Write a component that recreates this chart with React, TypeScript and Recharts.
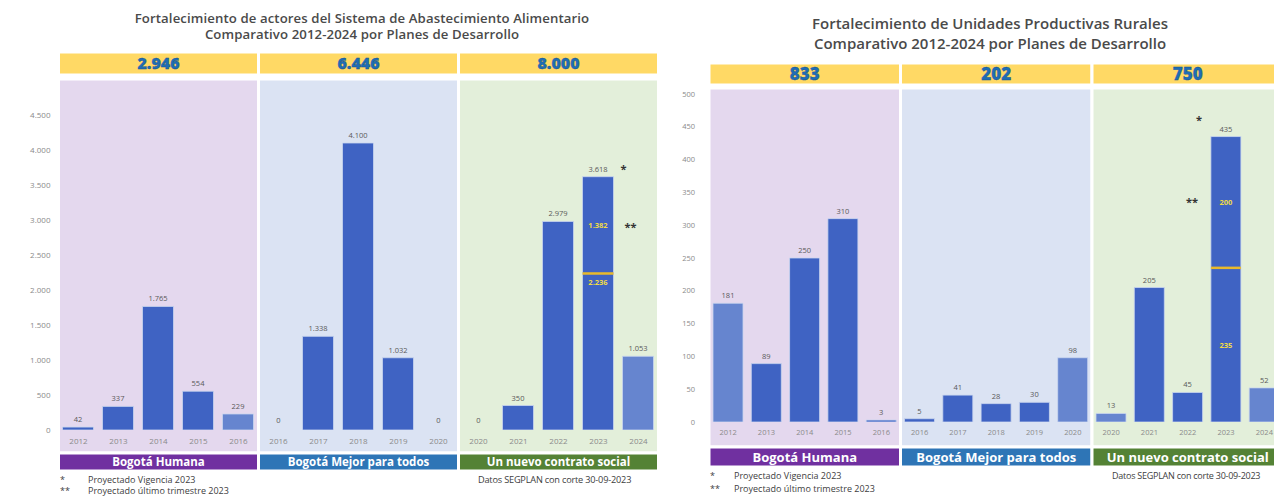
import { BarChart, Bar, XAxis, YAxis, CartesianGrid, ReferenceArea, ReferenceDot, LabelList, Cell } from "recharts";

const years = ["2012", "2013", "2014", "2015", "2016", "2016", "2017", "2018", "2019", "2020", "2020", "2021", "2022", "2023", "2024"];
const plans = ["Bogotá Humana", "Bogotá Mejor para todos", "Un nuevo contrato social"];

// Fortalecimiento de actores del Sistema de Abastecimiento Alimentario
const actoresBase = [42, 337, 1765, 554, 229, 0, 1338, 4100, 1032, 0, 0, 350, 2979, 2236, 1053];
const actoresExtra = [null, null, null, null, null, null, null, null, null, null, null, null, null, 1382, null];
const actoresTotals = ["2.946", "6.446", "8.000"];
const actoresLight = [4, 14];
const actoresTicks = [0, 500, 1000, 1500, 2000, 2500, 3000, 3500, 4000, 4500];

// Fortalecimiento de Unidades Productivas Rurales
const unidadesBase = [181, 89, 250, 310, 3, 5, 41, 28, 30, 98, 13, 205, 45, 235, 52];
const unidadesExtra = [null, null, null, null, null, null, null, null, null, null, null, null, null, 200, null];
const unidadesTotals = ["833", "202", "750"];
const unidadesLight = [0, 9, 10, 14];
const unidadesTicks = [0, 50, 100, 150, 200, 250, 300, 350, 400, 450, 500];

const segBg = ["#e4d8ee", "#dbe3f3", "#e3efda"];
const segBand = ["#7030a0", "#2e75b6", "#548235"];
const BAR = "#3f63c3";
const BAR_LIGHT = "#6685cf";
const YELLOW_TXT = "#f1dc45";
const FONT = "'Open Sans', sans-serif";

const fmt = (n: number) => String(n).replace(/\B(?=(\d{3})+(?!\d))/g, ".");

interface PanelProps {
  width: number;
  height: number;
  margin: { top: number; right: number; bottom: number; left: number };
  yAxisWidth: number;
  yMax: number;
  ticks: number[];
  base: number[];
  extra: (number | null)[];
  totals: string[];
  light: number[];
  barSize: number;
  plotTop: number;
  plotBottom: number;
  headerPx: [number, number];
  bgTopPx: number;
  bandPx: [number, number];
  headerFont: number;
  bandFont: number;
  tickFont: number;
  labelFont: number;
  yTickMargin: number;
  innerBasePos: "insideTop" | "center";
  starSide: "left" | "right";
}

function PlanChart(p: PanelProps) {
  const toVal = (py: number) => (p.yMax * (p.plotBottom - py)) / (p.plotBottom - p.plotTop);
  const rows = years.map((year, i) => {
    const ex = p.extra[i];
    return {
      i,
      year,
      base: p.base[i],
      extra: ex,
      topLabel: ex == null ? fmt(p.base[i]) : null,
      baseInner: ex != null ? fmt(p.base[i]) : null,
      extraInner: ex != null ? fmt(ex) : null,
      total: ex != null ? fmt(p.base[i] + ex) : null,
    };
  });

  const innerLabel = (pos: "insideTop" | "center") => (lp: any) => {
    if (lp.value == null) return null;
    const y = pos === "insideTop" ? lp.y + 6 + p.labelFont * 0.8 : lp.y + lp.height / 2 + p.labelFont * 0.35;
    return (
      <text x={lp.x + lp.width / 2} y={y} textAnchor="middle" fontSize={p.labelFont} fontWeight={700} fill={YELLOW_TXT} fontFamily={FONT}>
        {lp.value}
      </text>
    );
  };

  const totalLabel = (lp: any) => {
    if (lp.value == null) return null;
    const { x, y, width, height } = lp;
    const cx = x + width / 2;
    const starX = p.starSide === "right" ? x + width + 10 : x - 12;
    const starY = p.starSide === "right" ? y - 8 : y - 17;
    const dblX = p.starSide === "right" ? x + width + 17 : x - 19;
    const dblY = p.starSide === "right" ? y + height / 2 + 6 : y + height / 2 + 4;
    return (
      <g>
        <text x={cx} y={y - 5} textAnchor="middle" fontSize={p.labelFont} fill="#595959" fontFamily={FONT}>
          {lp.value}
        </text>
        <text x={starX} y={starY + 4} textAnchor="middle" fontSize={11} fontWeight={700} fill="#333">
          *
        </text>
        <text x={dblX} y={dblY} textAnchor="middle" fontSize={11} fontWeight={700} fill="#333">
          **
        </text>
      </g>
    );
  };

  const extraShape = (sp: any) => {
    if (!sp.height || sp.height <= 0) return <g />;
    return (
      <g>
        <rect x={sp.x} y={sp.y} width={sp.width} height={sp.height} fill={BAR} stroke="#c9d5ef" strokeWidth={0.8} />
        <line x1={sp.x} x2={sp.x + sp.width} y1={sp.y + sp.height} y2={sp.y + sp.height} stroke="#e8b92c" strokeWidth={2.5} />
      </g>
    );
  };

  const yHeadTop = toVal(p.headerPx[0]);
  const yHeadBot = toVal(p.headerPx[1]);
  const yBgTop = toVal(p.bgTopPx);
  const yBandTop = toVal(p.bandPx[0]);
  const yBandBot = toVal(p.bandPx[1]);

  return (
    <BarChart width={p.width} height={p.height} data={rows} margin={p.margin} barSize={p.barSize}>
      {plans.map((plan, s) => (
        <ReferenceArea
          key={"bg" + s}
          x1={s * 5 - 0.5}
          x2={s * 5 + 4.5}
          y1={yBandTop}
          y2={yBgTop}
          ifOverflow="visible"
          fill={segBg[s]}
          fillOpacity={1}
          stroke="#ffffff"
          strokeWidth={3}
        />
      ))}
      {plans.map((plan, s) => (
        <ReferenceArea
          key={"hd" + s}
          x1={s * 5 - 0.5}
          x2={s * 5 + 4.5}
          y1={yHeadBot}
          y2={yHeadTop}
          ifOverflow="visible"
          fill="#ffd965"
          fillOpacity={1}
          stroke="#ffffff"
          strokeWidth={3}
          label={{
            value: p.totals[s],
            position: "center",
            fill: "#1f6db4",
            fontSize: p.headerFont,
            fontWeight: 800,
            fontFamily: FONT,
            stroke: "#174d85",
            strokeWidth: 0.35,
          }}
        />
      ))}
      {plans.map((plan, s) => (
        <ReferenceArea
          key={"bd" + s}
          x1={s * 5 - 0.5}
          x2={s * 5 + 4.5}
          y1={yBandBot}
          y2={yBandTop}
          ifOverflow="visible"
          fill={segBand[s]}
          fillOpacity={1}
          stroke="#ffffff"
          strokeWidth={3}
          label={{ value: plan, position: "center", fill: "#ffffff", fontSize: p.bandFont, fontWeight: 700, fontFamily: FONT }}
        />
      ))}
      <CartesianGrid vertical={false} stroke="rgba(90,90,110,0.16)" strokeWidth={1.2} />
      <XAxis
        type="number"
        dataKey="i"
        domain={[-0.5, 14.5]}
        ticks={years.map((_, i) => i)}
        tickFormatter={(v: number) => years[v]}
        interval={0}
        axisLine={false}
        tickLine={false}
        height={20}
        tick={{ fill: "#8a8a8a", fontSize: p.tickFont, fontFamily: FONT }}
      />
      <YAxis
        domain={[0, p.yMax]}
        ticks={p.ticks}
        allowDataOverflow
        width={p.yAxisWidth}
        axisLine={false}
        tickLine={false}
        tickMargin={p.yTickMargin}
        tickFormatter={(v: number) => fmt(v)}
        tick={{ fill: "#8a8a8a", fontSize: p.tickFont, fontFamily: FONT }}
      />
      <Bar dataKey="base" stackId="a" isAnimationActive={false} stroke="#c9d5ef" strokeWidth={0.8}>
        {rows.map((r) => (
          <Cell key={r.i} fill={p.light.includes(r.i) ? BAR_LIGHT : BAR} />
        ))}
        <LabelList dataKey="topLabel" position="top" offset={5} fill="#595959" stroke="none" fontSize={p.labelFont} fontFamily={FONT} />
        <LabelList dataKey="baseInner" content={innerLabel(p.innerBasePos)} />
      </Bar>
      <Bar dataKey="extra" stackId="a" isAnimationActive={false} shape={extraShape}>
        <LabelList dataKey="extraInner" content={innerLabel("center")} />
        <LabelList dataKey="total" content={totalLabel} />
      </Bar>
      {rows
        .filter((r) => r.base === 0 && r.extra == null)
        .map((r) => (
          <ReferenceDot
            key={"z" + r.i}
            x={r.i}
            y={0}
            r={0}
            fill="none"
            stroke="none"
            ifOverflow="visible"
            label={{ value: "0", position: "top", offset: 7, fill: "#595959", fontSize: p.labelFont, fontFamily: FONT }}
          />
        ))}
    </BarChart>
  );
}

const abs = (left: number, top: number, fs: number, extra: any = {}) => ({
  position: "absolute" as const,
  left,
  top: top - fs * 0.55,
  fontSize: fs,
  lineHeight: 1.05,
  whiteSpace: "nowrap" as const,
  color: "#404040",
  ...extra,
});

export default function App() {
  return (
    <div style={{ position: "absolute", left: 0, top: 0, width: 1274, height: 497, overflow: "hidden", background: "#fff", fontFamily: FONT }}>
      {/* left panel */}
      <div style={{ position: "absolute", left: 0, top: 0, width: 660, height: 497 }}>
        <PlanChart
          width={660}
          height={497}
          margin={{ top: 80, right: 1.5, bottom: 47, left: 8.5 }}
          yAxisWidth={50}
          yMax={5000}
          ticks={actoresTicks}
          base={actoresBase}
          extra={actoresExtra}
          totals={actoresTotals}
          light={actoresLight}
          barSize={31}
          plotTop={80}
          plotBottom={430}
          headerPx={[52, 75]}
          bgTopPx={79}
          bandPx={[453, 471]}
          headerFont={16}
          bandFont={11.5}
          tickFont={8}
          labelFont={7.5}
          yTickMargin={2}
          innerBasePos="insideTop"
          starSide="right"
        />
      </div>
      <div style={{ position: "absolute", left: 0, top: 0, width: 724, textAlign: "center", fontSize: 13.2, letterSpacing: 0.1, fontWeight: 600, color: "#4a4a4a", lineHeight: "15.5px", paddingTop: 11 }}>
        <div>Fortalecimiento de actores del Sistema de Abastecimiento Alimentario</div>
        <div>Comparativo 2012-2024 por Planes de Desarrollo</div>
      </div>
      <div style={abs(60, 480, 9)}>*</div>
      <div style={abs(88, 480, 9)}>Proyectado Vigencia 2023</div>
      <div style={abs(60, 491, 9)}>**</div>
      <div style={abs(88, 491, 9)}>Proyectado último trimestre 2023</div>
      <div style={abs(478, 480, 9.2, { letterSpacing: -0.2 })}>Datos SEGPLAN con corte 30-09-2023</div>

      {/* right panel */}
      <div style={{ position: "absolute", left: 660, top: 0, width: 640, height: 497 }}>
        <PlanChart
          width={640}
          height={497}
          margin={{ top: 94, right: 16.5, bottom: 55, left: 9 }}
          yAxisWidth={40}
          yMax={500}
          ticks={unidadesTicks}
          base={unidadesBase}
          extra={unidadesExtra}
          totals={unidadesTotals}
          light={unidadesLight}
          barSize={30}
          plotTop={94}
          plotBottom={422}
          headerPx={[63, 85]}
          bgTopPx={88}
          bandPx={[447, 467]}
          headerFont={17}
          bandFont={13}
          tickFont={7.5}
          labelFont={7.5}
          yTickMargin={8}
          innerBasePos="center"
          starSide="left"
        />
      </div>
      <div style={{ position: "absolute", left: 740, top: 0, width: 500, textAlign: "center", fontSize: 15, fontWeight: 600, color: "#4a4a4a", lineHeight: "20px", paddingTop: 13 }}>
        <div>Fortalecimiento de Unidades Productivas Rurales</div>
        <div>Comparativo 2012-2024 por Planes de Desarrollo</div>
      </div>
      <div style={abs(710, 476, 9)}>*</div>
      <div style={abs(734, 476, 9)}>Proyectado Vigencia 2023</div>
      <div style={abs(710, 489, 9)}>**</div>
      <div style={abs(734, 489, 9)}>Proyectado último trimestre 2023</div>
      <div style={abs(1112, 476, 9, { letterSpacing: -0.25 })}>Datos SEGPLAN con corte 30-09-2023</div>
    </div>
  );
}
